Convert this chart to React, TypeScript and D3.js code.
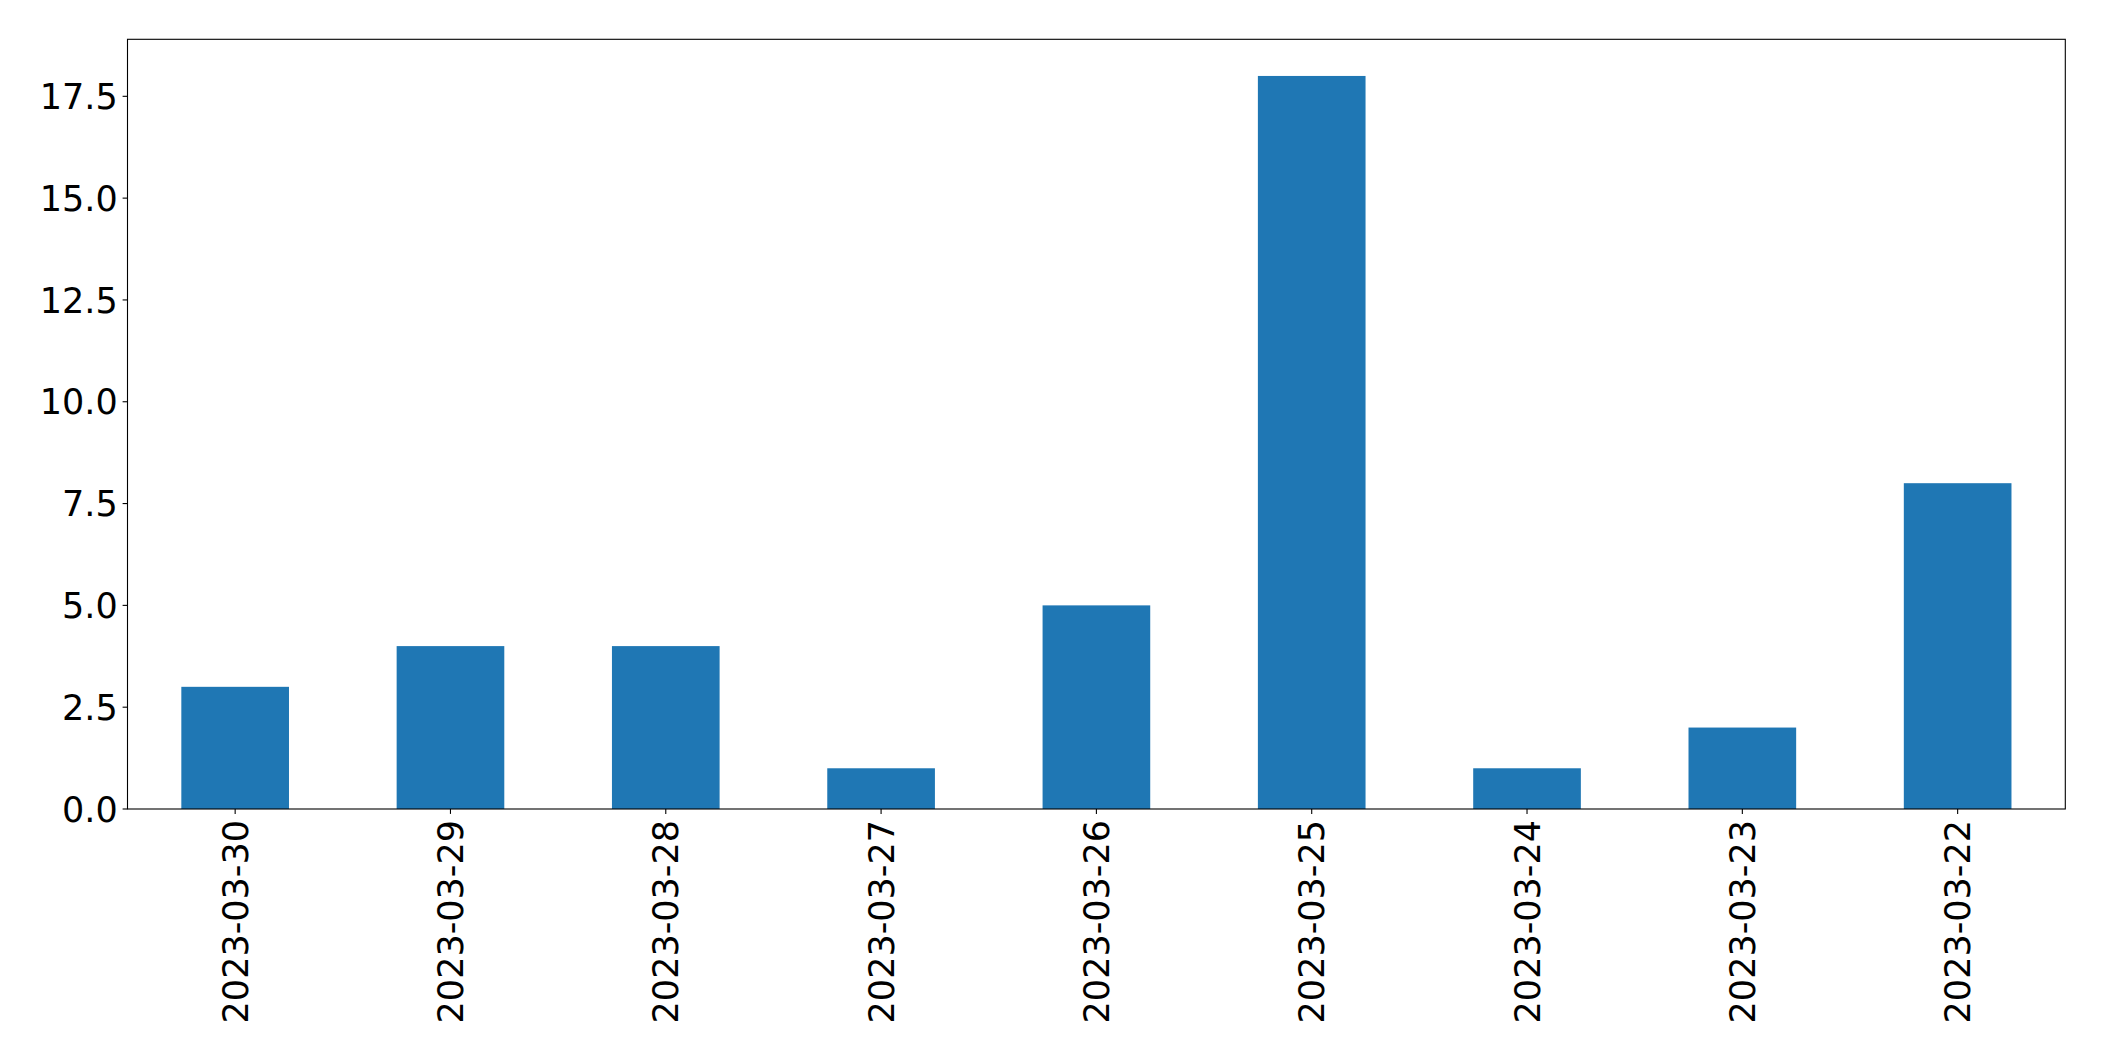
import React from "react";
import * as d3 from "d3";

const categories = ["2023-03-30", "2023-03-29", "2023-03-28", "2023-03-27", "2023-03-26", "2023-03-25", "2023-03-24", "2023-03-23", "2023-03-22"];
const values = [3, 4, 4, 1, 5, 18, 1, 2, 8];
const yTicks = [0, 2.5, 5, 7.5, 10, 12.5, 15, 17.5];

const W = 2104;
const H = 1061;
const left = 127.5;
const right = 2065.3;
const top = 39.3;
const bottom = 809;
const fontSize = 35;
const font = "DejaVu Sans, sans-serif";

export default function App() {
  const x = d3.scaleLinear().domain([-0.5, categories.length - 0.5]).range([left, right]);
  const y = d3.scaleLinear().domain([0, d3.max(values)! * 1.05]).range([bottom, top]);
  const bw = x(0.25) - x(-0.25);
  return (
    <svg width={W} height={H} style={{ position: "absolute", left: 0, top: 0, background: "#fff" }}>
      <rect x={0} y={0} width={W} height={H} fill="#fff" />
      {values.map((v, i) => (
        <rect key={i} x={x(i) - bw / 2} y={y(v)} width={bw} height={y(0) - y(v)} fill="#1f77b4" />
      ))}
      <rect x={left} y={top} width={right - left} height={bottom - top} fill="none" stroke="#000" strokeWidth={1.1} />
      {yTicks.map((t) => (
        <g key={t}>
          <line x1={left - 4.9} x2={left} y1={y(t)} y2={y(t)} stroke="#000" strokeWidth={1.1} />
          <text x={left - 9.8} y={y(t)} dy="0.36em" textAnchor="end" fontFamily={font} fontSize={fontSize} fill="#000">
            {d3.format(".1f")(t)}
          </text>
        </g>
      ))}
      {categories.map((c, i) => (
        <g key={c}>
          <line x1={x(i)} x2={x(i)} y1={bottom} y2={bottom + 4.9} stroke="#000" strokeWidth={1.1} />
          <text
            transform={`translate(${x(i)},${bottom + 11}) rotate(-90)`}
            dy="0.36em"
            textAnchor="end"
            fontFamily={font}
            fontSize={fontSize}
            fill="#000"
          >
            {c}
          </text>
        </g>
      ))}
    </svg>
  );
}
